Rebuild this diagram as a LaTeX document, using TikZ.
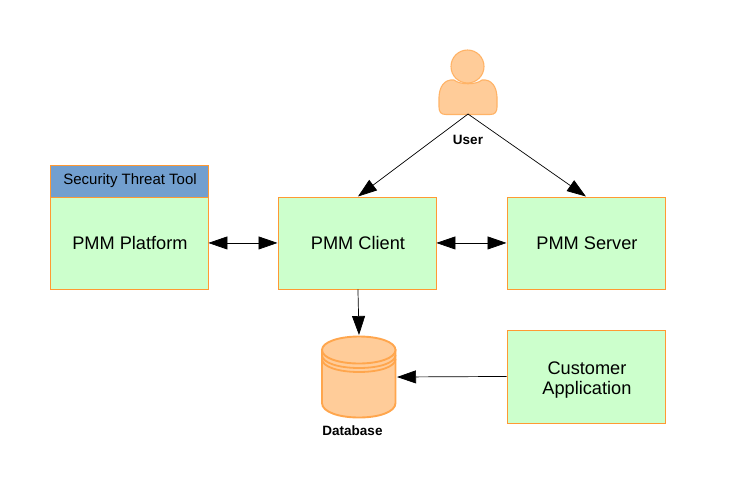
\documentclass[tikz,border=0pt]{standalone}
\usepackage{fontspec}
\setmainfont{Liberation Sans}
\usetikzlibrary{arrows.meta}
\definecolor{boxfill}{HTML}{CCFFCC}
\definecolor{boxline}{HTML}{FF9933}
\definecolor{headfill}{HTML}{729FCF}
\definecolor{shapefill}{HTML}{FFCC99}
\definecolor{shapeline}{HTML}{FFB366}
\definecolor{dbline}{HTML}{FFA64D}
\newcommand{\nudgetext}{\hspace*{2pt}}
\tikzset{
  x=1pt,y=-1pt,
  pmmbox/.style={draw=boxline,fill=boxfill,line width=0.9pt,minimum width=158pt,minimum height=92pt,inner sep=0pt,align=center,font=\fontsize{18.2}{20}\selectfont,anchor=north west},
  headbox/.style={draw=boxline,fill=headfill,line width=1.1pt,minimum width=158pt,minimum height=32pt,inner sep=0pt,font=\fontsize{15}{17}\selectfont,anchor=north west},
  caption/.style={font=\bfseries\fontsize{13.5}{15}\selectfont,inner sep=0pt},
  link/.style={draw=black,line width=0.7pt,-{Triangle[length=19pt,width=13pt]}},
  dbllink/.style={draw=black,line width=0.7pt,{Triangle[length=19pt,width=13pt]}-{Triangle[length=19pt,width=13pt]}},
  shapeart/.style={draw=shapeline,fill=shapefill,line width=1.1pt},
  dbart/.style={draw=dbline,fill=shapefill,line width=1.9pt},
}
\begin{document}
\begin{tikzpicture}
\useasboundingbox (0,0) rectangle (736,480);
\fill[white] (0,0) rectangle (736,480);
\node[headbox] (tool) at (49.5,164.5) {\nudgetext Security Threat Tool};
\node[pmmbox] (platform) at (49.5,196.5) {\nudgetext PMM Platform};
\node[pmmbox] (client) at (277.5,196.5) {\nudgetext PMM Client};
\node[pmmbox] (server) at (506.5,196.5) {\nudgetext PMM Server};
\node[pmmbox,minimum height=93pt] (app) at (506.5,329.5) {\rule{0pt}{20pt}\nudgetext Customer\\\nudgetext Application};
% user
\draw[shapeart] (467.5,66.5) circle (16.5);
\draw[shapeart] (454,80) .. controls (444,79) and (439.5,87) .. (439,97) -- (439,107) .. controls (439,112) and (441,114.5) .. (446,114.5) -- (490,114.5) .. controls (495,114.5) and (497,112) .. (497,107) -- (497,97) .. controls (496.5,87) and (492,79) .. (482,80) .. controls (476,85) and (460,85) .. (454,80) -- cycle;
\coordinate (userpt) at (468,114);
\node[caption] (userlabel) at (468,139.5) {User};
% database
\draw[dbart] (322,350) -- (322,403) .. controls (322,412) and (339,417.5) .. (359,417.5) .. controls (379,417.5) and (395.5,412) .. (395.5,403) -- (395.5,350) -- cycle;
\draw[dbart] (322,350) .. controls (322,342) and (339,336.5) .. (359,336.5) .. controls (379,336.5) and (395.5,342) .. (395.5,350) .. controls (395.5,358) and (379,363.5) .. (359,363.5) .. controls (339,363.5) and (322,358) .. (322,350) -- cycle;
\draw[dbline,line width=1.8pt] (322,355) .. controls (322,363) and (339,368) .. (359,368) .. controls (379,368) and (395.5,363) .. (395.5,355);
\draw[dbline,line width=1.8pt] (322,359) .. controls (322,367) and (339,372) .. (359,372) .. controls (379,372) and (395.5,367) .. (395.5,359);
\coordinate (dbtop) at (359,335);
\coordinate (dbright) at (397,377);
\node[caption] (dblabel) at (352.5,430.5) {Database};
% connectors
\draw[link] (userpt) -- ([xshift=1pt]client.north);
\draw[link] (userpt) -- (server.north);
\draw[dbllink] (platform.east) -- (client.west);
\draw[dbllink] (client.east) -- (server.west);
\draw[link] ([xshift=1pt]client.south) -- (dbtop);
\draw[link] (app.west) -- (dbright);
\end{tikzpicture}
\end{document}
